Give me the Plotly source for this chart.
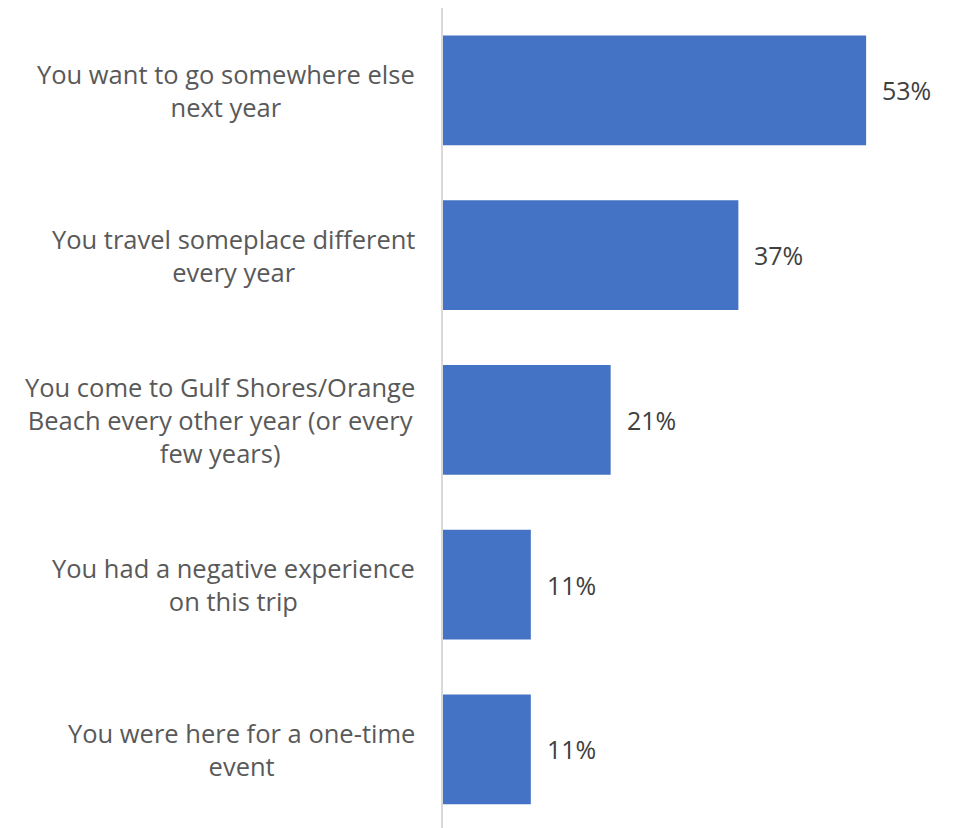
import plotly.graph_objects as go

categories = [
    "You want to go somewhere else<br>next year",
    "You travel someplace different<br>every year",
    "You come to Gulf Shores/Orange<br>Beach every other year (or every<br>few years)",
    "You had a negative experience<br>on this trip",
    "You were here for a one-time<br>event",
]
values = [53, 37, 21, 11, 11]
value_labels = ["53%", "37%", "21%", "11%", "11%"]

FONT = "Open Sans"
fig = go.Figure()
fig.add_trace(go.Bar(
    x=values, y=list(range(len(categories))), orientation="h",
    marker=dict(color="#4472C4", line=dict(width=0)),
    hoverinfo="skip",
))

for i, (v, lab) in enumerate(zip(values, value_labels)):
    fig.add_annotation(x=v, y=i, xref="x", yref="y", text=lab, showarrow=False,
                       xanchor="left", xshift=14,
                       font=dict(family=FONT, size=25, color="#404040"))
    fig.add_annotation(x=0, y=i, xref="paper", yref="y", text=categories[i], showarrow=False,
                       xanchor="right", xshift=-26, align="center",
                       font=dict(family=FONT, size=25.5, color="#595959"))

fig.update_layout(
    width=961, height=828,
    margin=dict(l=435, r=47, t=0, b=0),
    paper_bgcolor="white", plot_bgcolor="white",
    bargap=0.333, showlegend=False,
    xaxis=dict(range=[0, 60], showgrid=False, zeroline=False, showticklabels=False, showline=False),
    yaxis=dict(range=[4.526, -0.5], showgrid=False, zeroline=False, showticklabels=False,
               showline=True, linecolor="#d9d9d9", linewidth=2),
)
fig.write_html("out.html")
